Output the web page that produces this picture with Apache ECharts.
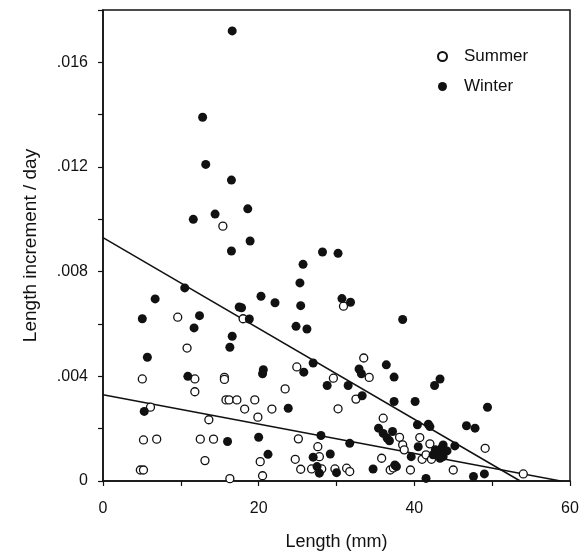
<!DOCTYPE html>
<html>
<head>
<meta charset="utf-8">
<script src="https://cdn.jsdelivr.net/npm/echarts@6/dist/echarts.min.js"></script>
<style>html,body{margin:0;padding:0;background:#fff;}#c{width:587px;height:557px;}</style>
</head>
<body>
<div id="c"></div>
<script>
// Summer (open circles): [length mm, increment/day]
const summer = [
  [9.6,0.00626],[15.4,0.00974],[18.0,0.0062],[10.8,0.00508],[5.05,0.0039],[11.8,0.0039],
  [15.6,0.00396],[15.6,0.00388],[11.8,0.00341],[23.4,0.00352],[15.8,0.0031],[16.2,0.0031],
  [17.2,0.0031],[19.5,0.0031],[18.2,0.00275],[21.7,0.00275],[6.1,0.00282],[13.6,0.00234],
  [19.9,0.00244],[5.2,0.00157],[6.9,0.0016],[12.5,0.0016],[14.2,0.0016],[20.2,0.00074],
  [13.1,0.00078],[4.8,0.00042],[5.2,0.00042],[16.3,0.00009],[20.5,0.0002],[30.9,0.00668],
  [33.5,0.0047],[34.2,0.00396],[24.9,0.00436],[29.6,0.00393],[32.5,0.00313],[30.2,0.00276],
  [36.0,0.0024],[38.1,0.00167],[25.1,0.00161],[40.7,0.00166],[27.6,0.00131],[38.5,0.00138],
  [38.7,0.00119],[42.0,0.00142],[41.0,0.00083],[41.5,0.001],[42.2,0.00083],[24.7,0.00083],
  [35.8,0.00087],[27.8,0.00093],[25.4,0.00045],[26.8,0.00046],[28.1,0.00046],[29.8,0.00046],
  [31.3,0.00049],[31.7,0.00036],[36.9,0.00042],[37.3,0.0005],[39.5,0.00042],[45.0,0.00042],
  [49.1,0.00125],[54.0,0.00027]
];
// Winter (filled circles)
const winter = [
  [16.6,0.0172],[12.8,0.0139],[13.2,0.0121],[16.5,0.0115],[11.6,0.0100],[14.4,0.0102],
  [18.6,0.0104],[18.9,0.00917],[16.5,0.00879],[10.5,0.00738],[6.7,0.00696],[20.3,0.00706],
  [22.1,0.00681],[17.5,0.00665],[17.8,0.00662],[5.05,0.0062],[12.4,0.00632],[11.7,0.00585],
  [18.8,0.00619],[16.6,0.00553],[16.3,0.00511],[5.7,0.00473],[10.9,0.0040],[20.6,0.00425],
  [20.5,0.0041],[23.8,0.00278],[5.3,0.00266],[16.0,0.00151],[20.0,0.00167],[21.2,0.00102],
  [28.2,0.00875],[30.2,0.0087],[25.7,0.00828],[25.3,0.00757],[25.4,0.0067],[30.7,0.00697],
  [31.8,0.00683],[38.5,0.00617],[24.8,0.00591],[26.2,0.00581],[36.4,0.00444],[32.9,0.00428],
  [33.2,0.0041],[37.4,0.00397],[43.3,0.0039],[42.6,0.00365],[27.0,0.00451],[25.8,0.00416],
  [28.8,0.00365],[31.5,0.00365],[33.3,0.00326],[37.4,0.00304],[40.1,0.00304],[49.4,0.00282],
  [40.4,0.00215],[41.8,0.00217],[42.0,0.00208],[46.7,0.00211],[47.8,0.00202],[35.4,0.00202],
  [36.0,0.00182],[36.5,0.00164],[37.2,0.00189],[36.8,0.00154],[28.0,0.00174],[31.7,0.00144],
  [40.5,0.00131],[43.7,0.00138],[43.5,0.00125],[42.7,0.00119],[43.1,0.00106],[43.7,0.00093],
  [42.4,0.001],[43.3,0.00087],[44.2,0.00115],[45.2,0.00134],[39.6,0.00093],[27.0,0.00091],
  [29.2,0.00103],[27.5,0.00055],[27.8,0.0003],[30.0,0.00032],[34.7,0.00046],[37.5,0.00061],
  [37.7,0.00055],[41.5,0.0001],[47.6,0.00017],[49.0,0.00027]
];
// Regression lines (endpoints)
const winterFit = [[0,0.0093],[53.6,0]];
const summerFit = [[0,0.0033],[58.8,0]];
const xTickLabels = [0,20,40,60];
const yTickLabels = [0,0.004,0.008,0.012,0.016];

const font = '"Liberation Sans", Arial, sans-serif';
const ink = '#111';
const chart = echarts.init(document.getElementById('c'));
chart.setOption({
  backgroundColor:'#fff',
  animation:false,
  grid:{left:103,right:17,top:10,bottom:76,show:true,borderColor:ink,borderWidth:1.5,backgroundColor:'transparent'},
  legend:{
    data:['Summer','Winter'],orient:'vertical',left:432,top:43,itemGap:13,
    itemWidth:9,itemHeight:9,icon:'circle',
    textStyle:{fontFamily:font,fontSize:17,color:ink,padding:[0,0,0,12]}
  },
  xAxis:{
    type:'value',min:0,max:60,interval:10,
    name:'Length (mm)',nameLocation:'middle',nameGap:52,
    nameTextStyle:{fontFamily:font,fontSize:18,color:ink},
    axisLine:{lineStyle:{color:ink,width:1.5}},
    axisTick:{show:true,length:5,lineStyle:{color:ink,width:1.2}},
    splitLine:{show:false},
    axisLabel:{fontFamily:font,fontSize:16,color:ink,margin:20,
      formatter:v=>xTickLabels.indexOf(Math.round(v))>=0?String(Math.round(v)):''}
  },
  yAxis:{
    type:'value',min:0,max:0.018,interval:0.002,
    name:'Length increment / day',nameLocation:'middle',nameGap:63,nameRotate:90,
    nameTextStyle:{fontFamily:font,fontSize:19,color:ink},
    axisLine:{lineStyle:{color:ink,width:1.5}},
    axisTick:{show:true,length:5,lineStyle:{color:ink,width:1.2}},
    splitLine:{show:false},
    axisLabel:{fontFamily:font,fontSize:16,color:ink,margin:15,
      formatter:v=>{
        const k=yTickLabels.findIndex(t=>Math.abs(t-v)<1e-9);
        if(k<0) return '';
        if(yTickLabels[k]===0) return '0';
        return yTickLabels[k].toFixed(3).replace(/^0/,'');
      }}
  },
  series:[
    {name:'WinterFit',type:'line',data:winterFit,symbol:'none',silent:true,
     lineStyle:{color:ink,width:1.5},z:1},
    {name:'SummerFit',type:'line',data:summerFit,symbol:'none',silent:true,
     lineStyle:{color:ink,width:1.5},z:1},
    {name:'Summer',type:'scatter',data:summer,symbol:'circle',symbolSize:8,
     itemStyle:{color:'#fff',borderColor:ink,borderWidth:1.3,opacity:1},z:3},
    {name:'Winter',type:'scatter',data:winter,symbol:'circle',symbolSize:9,
     itemStyle:{color:ink,opacity:1},z:4}
  ]
});
</script>
</body>
</html>
